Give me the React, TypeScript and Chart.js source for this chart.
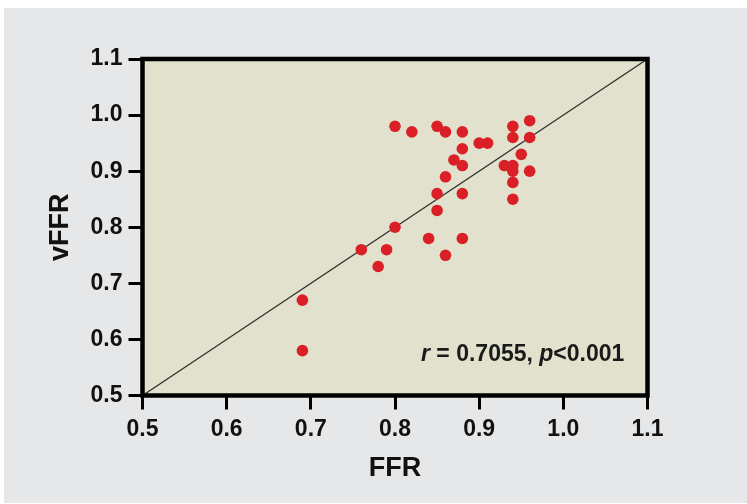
import React, { useEffect, useRef } from "react";
import { Chart, registerables } from "chart.js";

Chart.register(...registerables);

const ffr = [0.80, 0.82, 0.85, 0.86, 0.88, 0.94, 0.96, 0.94, 0.96, 0.90, 0.91, 0.88, 0.95, 0.87, 0.88, 0.93, 0.94, 0.94, 0.96, 0.86, 0.94, 0.85, 0.88, 0.94, 0.85, 0.80, 0.79, 0.76, 0.78, 0.84, 0.88, 0.86, 0.69, 0.69];
const vffr = [0.98, 0.97, 0.98, 0.97, 0.97, 0.98, 0.99, 0.96, 0.96, 0.95, 0.95, 0.94, 0.93, 0.92, 0.91, 0.91, 0.91, 0.90, 0.90, 0.89, 0.88, 0.86, 0.86, 0.85, 0.83, 0.80, 0.76, 0.76, 0.73, 0.78, 0.78, 0.75, 0.67, 0.58];
const identityLine = [0.5, 1.1];
const xTitle = "FFR";
const yTitle = "vFFR";
const statParts: { text: string; italic: boolean }[] = [
  { text: "r", italic: true },
  { text: " = 0.7055, ", italic: false },
  { text: "p", italic: true },
  { text: "<0.001", italic: false },
];

const FONT = "'Liberation Sans', Arial, sans-serif";

const bgPlugin = {
  id: "bg",
  beforeDraw(chart: any) {
    const { ctx, chartArea } = chart;
    ctx.save();
    ctx.fillStyle = "#ffffff";
    ctx.fillRect(0, 0, chart.width, chart.height);
    ctx.fillStyle = "#e6e7e9";
    ctx.fillRect(4, 8, chart.width - 4, 495);
    ctx.fillStyle = "#e2e1cd";
    ctx.fillRect(chartArea.left, chartArea.top, chartArea.right - chartArea.left, chartArea.bottom - chartArea.top);
    ctx.restore();
  },
};

const framePlugin = {
  id: "frame",
  afterDatasetsDraw(chart: any) {
    const { ctx, chartArea } = chart;
    ctx.save();
    ctx.strokeStyle = "#000000";
    ctx.lineWidth = 4.5;
    ctx.strokeRect(chartArea.left, chartArea.top, chartArea.right - chartArea.left, chartArea.bottom - chartArea.top);
    // stat annotation
    const xs = chart.scales.x;
    const ys = chart.scales.y;
    const rightX = xs.getPixelForValue(1.0) + 61;
    const baseY = ys.getPixelForValue(0.5) - 35;
    const fonts = statParts.map((p) => (p.italic ? `italic bold 23px ${FONT}` : `bold 23px ${FONT}`));
    let total = 0;
    statParts.forEach((p, i) => {
      ctx.font = fonts[i];
      total += ctx.measureText(p.text).width;
    });
    let x = rightX - total;
    ctx.fillStyle = "#1a1a1a";
    ctx.textBaseline = "alphabetic";
    ctx.textAlign = "left";
    statParts.forEach((p, i) => {
      ctx.font = fonts[i];
      ctx.fillText(p.text, x, baseY);
      x += ctx.measureText(p.text).width;
    });
    ctx.restore();
  },
};

export default function App() {
  const ref = useRef<HTMLCanvasElement>(null);
  useEffect(() => {
    if (!ref.current) return;
    const chart = new Chart(ref.current, {
      type: "scatter",
      data: {
        datasets: [
          {
            type: "scatter",
            data: ffr.map((v, i) => ({ x: v, y: vffr[i] })),
            backgroundColor: "#da1f27",
            borderWidth: 0,
            pointRadius: 5.8,
            order: 0,
          },
          {
            type: "line",
            data: identityLine.map((v) => ({ x: v, y: v })),
            borderColor: "#333333",
            borderWidth: 1.3,
            pointRadius: 0,
            fill: false,
            order: 1,
          } as any,
        ],
      },
      options: {
        animation: false,
        responsive: false,
        events: [],
        layout: { padding: { left: 0, top: 59, right: 99.5, bottom: 0 } },
        plugins: { legend: { display: false }, tooltip: { enabled: false } },
        scales: {
          x: {
            type: "linear",
            min: 0.5,
            max: 1.1,
            ticks: {
              stepSize: 0.1,
              padding: 6,
              color: "#111111",
              font: { family: FONT, size: 23, weight: "bold" },
              callback: (v: any) => Number(v).toFixed(1),
            },
            grid: { drawOnChartArea: false, tickLength: 14, lineWidth: 3, color: "#000000" },
            border: { display: false },
            title: {
              display: true,
              text: xTitle,
              color: "#111111",
              font: { family: FONT, size: 27, weight: "bold" },
              padding: { top: 0, bottom: 19 },
            },
            afterFit: (s: any) => {
              s.height = 108.5;
            },
          },
          y: {
            type: "linear",
            min: 0.5,
            max: 1.1,
            ticks: {
              stepSize: 0.1,
              padding: 6,
              color: "#111111",
              font: { family: FONT, size: 23, weight: "bold" },
              callback: (v: any) => Number(v).toFixed(1),
            },
            grid: { drawOnChartArea: false, tickLength: 14, lineWidth: 3, color: "#000000" },
            border: { display: false },
            title: {
              display: true,
              text: yTitle,
              color: "#111111",
              font: { family: FONT, size: 27, weight: "bold" },
              padding: { top: 44, bottom: 0 },
            },
            afterFit: (s: any) => {
              s.width = 142.5;
            },
          },
        },
      },
      plugins: [bgPlugin, framePlugin],
    } as any);
    return () => chart.destroy();
  }, []);
  return (
    <div style={{ position: "fixed", left: 0, top: 0, width: 747, height: 504 }}>
      <canvas ref={ref} width={747} height={504} />
    </div>
  );
}
